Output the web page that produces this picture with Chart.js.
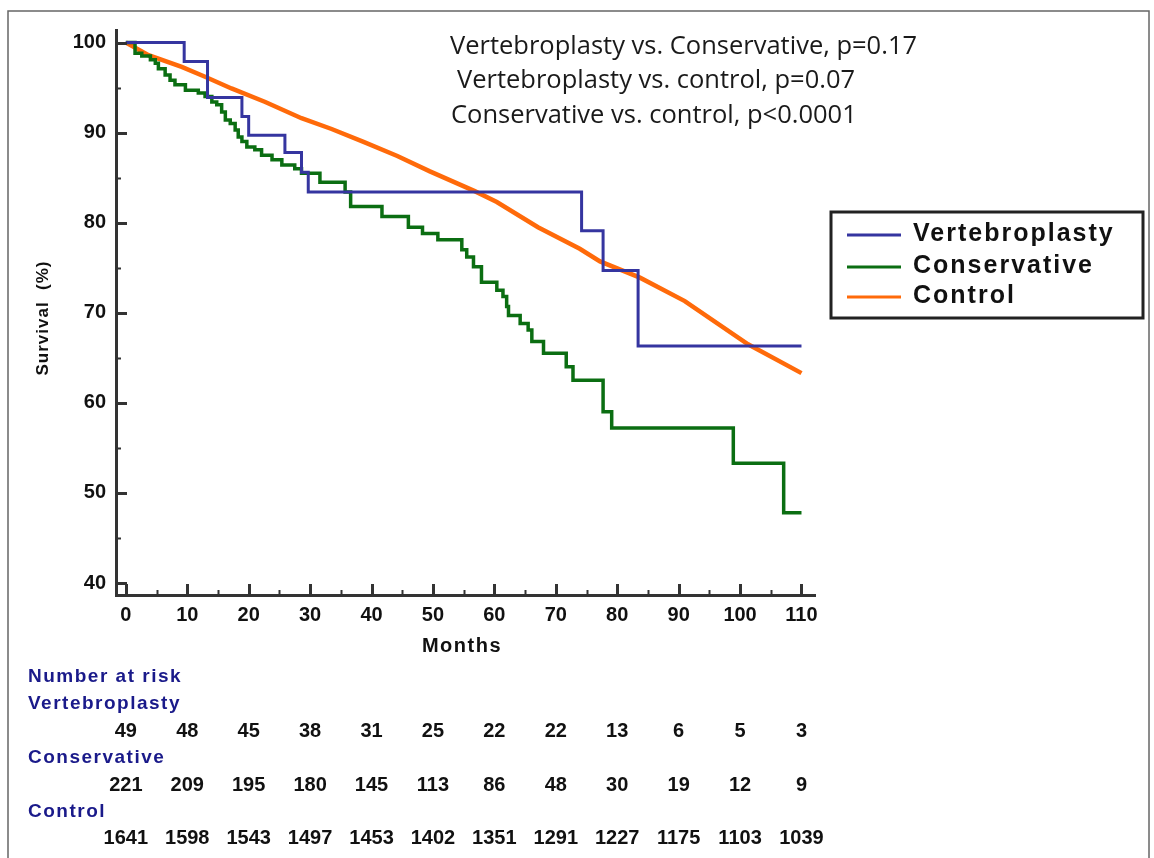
<!DOCTYPE html>
<html>
<head>
<meta charset="utf-8">
<script src="https://cdn.jsdelivr.net/npm/chart.js@4.4.0/dist/chart.umd.min.js"></script>
<style>
  html, body { margin: 0; padding: 0; background: #fff; }
  #wrap { width: 1154px; height: 858px; position: relative; }
</style>
</head>
<body>
<div id="wrap"><canvas id="km"></canvas></div>
<script>
// Kaplan-Meier curves (months, survival %)
const vertMonths = [0, 9.5, 13.3, 18.9, 20.0, 25.9, 28.6, 29.7, 74.2, 77.7, 83.4, 110];
const vertSurv   = [100, 97.9, 93.9, 91.8, 89.7, 87.8, 85.6, 83.4, 79.1, 74.7, 66.3, 66.3];

const consMonths = [0, 1.5, 2.6, 4.0, 4.8, 5.3, 6.4, 7.2, 8.0, 9.7, 11.8, 12.9, 14.0, 14.8, 15.6, 16.2,
  17.0, 17.8, 18.3, 18.9, 19.7, 21.0, 22.1, 23.8, 25.4, 27.5, 28.6, 31.6, 35.7, 36.6, 41.7, 46.0,
  48.3, 50.8, 54.7, 55.5, 56.6, 57.9, 60.4, 61.4, 62.0, 62.3, 64.2, 65.5, 66.1, 68.0, 71.7, 72.8,
  77.7, 79.1, 98.9, 107.1, 110];
const consSurv = [100, 98.8, 98.5, 98.1, 97.7, 97.1, 96.4, 95.8, 95.3, 94.7, 94.4, 94.0, 93.4, 93.1, 92.3, 91.4,
  91.0, 90.3, 89.5, 89.0, 88.4, 88.1, 87.5, 87.0, 86.4, 86.0, 85.5, 84.5, 83.4, 81.8, 80.7, 79.5,
  78.8, 78.1, 77.0, 76.2, 75.1, 73.4, 72.5, 71.8, 70.7, 69.7, 68.8, 68.1, 66.8, 65.5, 64.0, 62.5,
  59.0, 57.2, 53.3, 47.8, 47.8];

const ctrlMonths = [0, 3.7, 9.1, 12.9, 17.2, 22.7, 28.6, 33.5, 38.6, 44.2, 49.5, 56.8, 60.4, 67.1,
  73.9, 77.2, 83.7, 91.0, 101.3, 110];
const ctrlSurv = [100, 98.6, 97.3, 96.2, 94.9, 93.4, 91.6, 90.4, 89.0, 87.4, 85.7, 83.5, 82.3, 79.5,
  77.1, 75.7, 73.9, 71.3, 66.5, 63.3];

const xTickValues = [0, 10, 20, 30, 40, 50, 60, 70, 80, 90, 100, 110];
const yTickValues = [40, 50, 60, 70, 80, 90, 100];

const riskVert = [49, 48, 45, 38, 31, 25, 22, 22, 13, 6, 5, 3];
const riskCons = [221, 209, 195, 180, 145, 113, 86, 48, 30, 19, 12, 9];
const riskCtrl = [1641, 1598, 1543, 1497, 1453, 1402, 1351, 1291, 1227, 1175, 1103, 1039];

const pValues = [
  'Vertebroplasty vs. Conservative, p=0.17',
  'Vertebroplasty vs. control, p=0.07',
  'Conservative vs. control, p<0.0001'
];

const BLUE = '#3535a0';
const GREEN = '#0b6e12';
const ORANGE = '#ff6a0a';
const NAVY = '#1a1a8a';
const AXIS = '#333333';
const BOLD = '"Liberation Sans", Arial, sans-serif';

const toPoints = (xs, ys) => xs.map((m, i) => ({ x: m, y: ys[i] }));

const decor = {
  id: 'decor',
  afterDraw(chart) {
    const ctx = chart.ctx;
    const xs = chart.scales.x;
    const ys = chart.scales.y;
    const area = chart.chartArea;
    ctx.save();

    // outer frame
    ctx.strokeStyle = '#666';
    ctx.lineWidth = 1.5;
    ctx.strokeRect(8, 11, 1141, 860);

    // inward tick marks, minor every 5
    ctx.strokeStyle = AXIS;
    for (let v = 40; v <= 100; v += 5) {
      const py = Math.round(ys.getPixelForValue(v)) + 0.5;
      const major = v % 10 === 0;
      ctx.lineWidth = major ? 3 : 2;
      ctx.beginPath();
      ctx.moveTo(area.left, py);
      ctx.lineTo(area.left + (major ? 11 : 5), py);
      ctx.stroke();
    }
    for (let v = 0; v <= 110; v += 5) {
      const px = Math.round(xs.getPixelForValue(v)) + 0.5;
      const major = v % 10 === 0;
      ctx.lineWidth = major ? 3 : 2;
      ctx.beginPath();
      ctx.moveTo(px, area.bottom);
      ctx.lineTo(px, area.bottom - (major ? 11 : 5));
      ctx.stroke();
    }

    // axis titles
    ctx.fillStyle = '#111';
    ctx.textBaseline = 'middle';
    ctx.textAlign = 'center';
    ctx.font = 'bold 20px ' + BOLD;
    ctx.letterSpacing = '1.5px';
    ctx.fillText('Months', 462, 646);
    ctx.save();
    ctx.translate(43, 318);
    ctx.rotate(-Math.PI / 2);
    ctx.font = 'bold 17px ' + BOLD;
    ctx.letterSpacing = '1px';
    ctx.fillText('Survival  (%)', 0, 0);
    ctx.restore();

    // p-values
    ctx.letterSpacing = '0px';
    ctx.textAlign = 'left';
    ctx.font = '25.5px "Open Sans", sans-serif';
    ctx.fillStyle = '#1a1a1a';
    ctx.fillText(pValues[0], 450, 47);
    ctx.fillText(pValues[1], 457, 81);
    ctx.fillText(pValues[2], 451, 116);

    // legend box
    ctx.strokeStyle = '#222';
    ctx.lineWidth = 3;
    ctx.strokeRect(831, 212, 312, 106);
    ctx.font = 'bold 25px ' + BOLD;
    ctx.letterSpacing = '2px';
    ctx.textBaseline = 'alphabetic';
    const rows = [235, 267, 297];
    chart.data.datasets.forEach((ds, i) => {
      ctx.strokeStyle = ds.borderColor;
      ctx.lineWidth = 3;
      ctx.beginPath();
      ctx.moveTo(847, rows[i]);
      ctx.lineTo(901, rows[i]);
      ctx.stroke();
      ctx.fillStyle = '#111';
      ctx.fillText(ds.label, 913, rows[i] + 6);
    });

    // number at risk table
    ctx.textBaseline = 'middle';
    ctx.font = 'bold 19px ' + BOLD;
    ctx.letterSpacing = '1.5px';
    ctx.fillStyle = NAVY;
    ctx.textAlign = 'left';
    ctx.fillText('Number at risk', 28, 677);
    ctx.fillText('Vertebroplasty', 28, 704);
    ctx.fillText('Conservative', 28, 758);
    ctx.fillText('Control', 28, 812);
    ctx.fillStyle = '#111';
    ctx.textAlign = 'center';
    ctx.font = 'bold 20px ' + BOLD;
    ctx.letterSpacing = '0px';
    [[riskVert, 731], [riskCons, 785], [riskCtrl, 838]].forEach(([vals, py]) => {
      vals.forEach((n, i) => {
        ctx.fillText(String(n), xs.getPixelForValue(xTickValues[i]), py);
      });
    });

    ctx.restore();
  }
};

new Chart(document.getElementById('km'), {
  type: 'line',
  data: {
    datasets: [
      {
        label: 'Vertebroplasty',
        data: toPoints(vertMonths, vertSurv),
        borderColor: BLUE,
        borderWidth: 3,
        stepped: true,
        pointRadius: 0,
        fill: false
      },
      {
        label: 'Conservative',
        data: toPoints(consMonths, consSurv),
        borderColor: GREEN,
        borderWidth: 3.5,
        stepped: true,
        pointRadius: 0,
        fill: false
      },
      {
        label: 'Control',
        data: toPoints(ctrlMonths, ctrlSurv),
        borderColor: ORANGE,
        borderWidth: 4.5,
        tension: 0,
        pointRadius: 0,
        fill: false
      }
    ]
  },
  options: {
    responsive: true,
    maintainAspectRatio: false,
    animation: false,
    devicePixelRatio: 1,
    layout: { padding: { left: 0, top: 30, right: 339, bottom: 0 } },
    plugins: {
      legend: { display: false },
      tooltip: { enabled: false }
    },
    scales: {
      x: {
        type: 'linear',
        min: -1.6,
        max: 112.2,
        afterBuildTicks: (scale) => { scale.ticks = xTickValues.map(v => ({ value: v })); },
        afterFit: (scale) => { scale.height = 263; },
        grid: { display: false, drawTicks: false },
        border: { display: true, color: AXIS, width: 3 },
        ticks: {
          autoSkip: false,
          maxRotation: 0,
          padding: 8,
          color: '#111',
          font: { family: BOLD, size: 20, weight: 'bold' }
        }
      },
      y: {
        type: 'linear',
        min: 38.67,
        max: 101.39,
        afterBuildTicks: (scale) => { scale.ticks = yTickValues.map(v => ({ value: v })); },
        afterFit: (scale) => { scale.width = 116; },
        grid: { display: false, drawTicks: false },
        border: { display: true, color: AXIS, width: 3 },
        ticks: {
          padding: 10,
          color: '#111',
          font: { family: BOLD, size: 20, weight: 'bold' }
        }
      }
    }
  },
  plugins: [decor]
});
</script>
</body>
</html>
